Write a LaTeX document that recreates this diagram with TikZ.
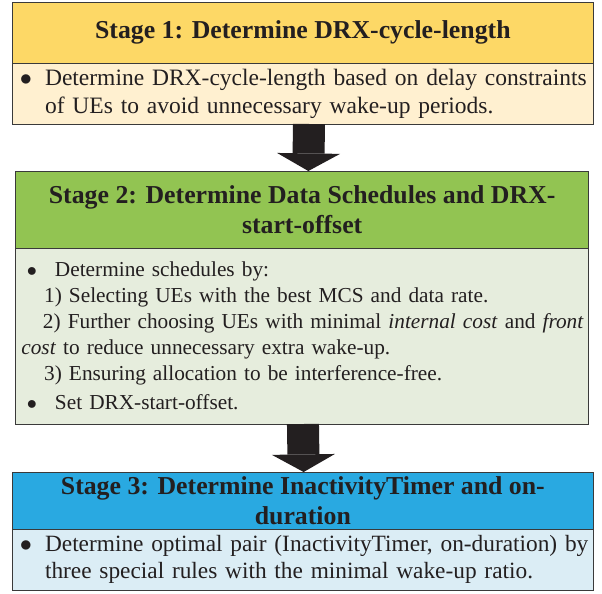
\documentclass[tikz,border=0pt]{standalone}
\usepackage{fontspec}
\setmainfont{Liberation Serif}
\usepackage{xcolor}
\usepackage{tikz}
\usetikzlibrary{arrows.meta}
\usetikzlibrary{positioning}

\definecolor{ink}{HTML}{231F20}
\definecolor{edge}{HTML}{3A3A3A}
\definecolor{headA}{HTML}{FDD866}
\definecolor{bodyA}{HTML}{FFF0D0}
\definecolor{headB}{HTML}{92C452}
\definecolor{bodyB}{HTML}{E6EDDD}
\definecolor{headC}{HTML}{29A9E1}
\definecolor{bodyC}{HTML}{DBEDF5}

\newcommand{\dotmark}{$\bullet$}

\tikzset{
  stagehead/.style={draw=edge, line width=0.7pt, outer sep=0pt, inner sep=0pt,
    align=center, text=ink, font=\fontsize{18.35}{21.3}\selectfont\bfseries},
  stagebody/.style={draw=edge, line width=0.7pt, outer sep=0pt, inner xsep=0.1cm,
    inner ysep=0pt, align=left, text=ink},
  flow/.style={draw=ink, line width=0.8cm,
    -{Triangle[width=1.575cm, length=0.44cm, line width=0pt]}}
}

\begin{document}
\begin{tikzpicture}
        \useasboundingbox (0, 0) rectangle (15.05, -14.825);

        \node[stagehead, fill=headA, minimum width=14.51cm, minimum height=1.5075cm]
              (h1) at (7.571, -0.821) {Stage 1: Determine DRX-cycle-length};
        \node[stagebody, fill=bodyA, text width=14.31cm, minimum height=1.525cm,
              font=\fontsize{16.72}{19.9}\selectfont, below=0pt of h1] (b1)
              {\mbox{\makebox[0.71cm][l]{\hspace{0.08cm}\dotmark}Determine DRX-cycle-length based on delay constraints}\\
               \mbox{\hspace*{0.71cm}of UEs to avoid unnecessary wake-up periods.}};

        \node[stagehead, fill=headB, minimum width=14.34cm, minimum height=1.925cm]
              (h2) at (7.554, -5.2375) {Stage 2: Determine Data Schedules and DRX-\\start-offset};
        \node[stagebody, fill=bodyB, text width=14.14cm, minimum height=4.4cm,
              font=\fontsize{15.15}{18.5}\selectfont, below=0pt of h2] (b2)
              {\mbox{\makebox[0.89cm][l]{\hspace{0.19cm}\dotmark}Determine schedules by:}\\
               \mbox{\hspace*{0.62cm}1) Selecting UEs with the best MCS and data rate.}\\
               \mbox{\hspace*{0.59cm}2) Further choosing UEs with minimal \textit{internal cost} and \textit{front}}\\
               \mbox{\hspace*{0.05cm}\textit{cost} to reduce unnecessary extra wake-up.}\\
               \mbox{\hspace*{0.62cm}3) Ensuring allocation to be interference-free.}\\[2pt]
               \mbox{\makebox[0.89cm][l]{\hspace{0.19cm}\dotmark}Set DRX-start-offset.}};

        \node[stagehead, fill=headC, minimum width=14.51cm, minimum height=1.425cm]
              (h3) at (7.571, -12.5125) {Stage 3: Determine InactivityTimer and on-\\duration};
        \node[stagebody, fill=bodyC, text width=14.31cm, minimum height=1.525cm,
              font=\fontsize{16.6}{19.2}\selectfont, below=0pt of h3] (b3)
              {\mbox{\makebox[0.71cm][l]{\hspace{0.08cm}\dotmark}Determine optimal pair (InactivityTimer, on-duration) by}\\
               \mbox{\hspace*{0.71cm}three special rules with the minimal wake-up ratio.}};

        \draw[flow] ([xshift=0.154cm]b1.south) -- ([xshift=0.154cm]h2.north);
        \draw[flow] ([xshift=0.02cm]b2.south) -- ([xshift=0.02cm]h3.north);
      \end{tikzpicture}
\end{document}
